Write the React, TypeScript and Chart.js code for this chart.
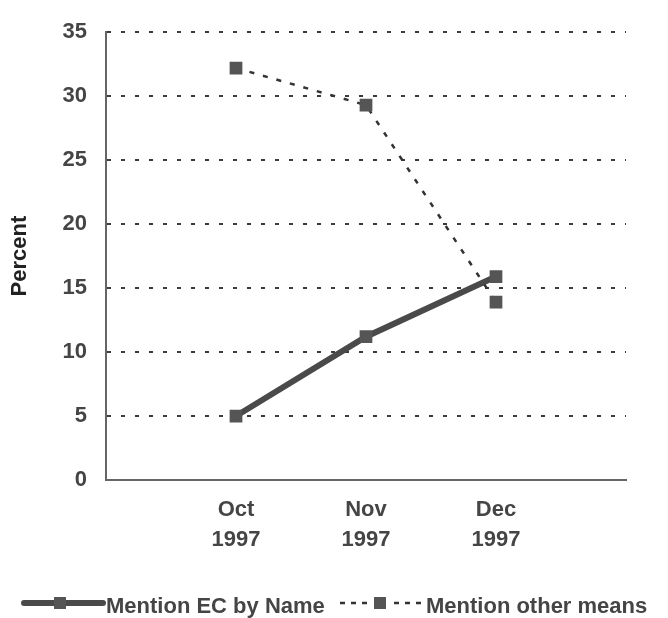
import React, { useEffect, useRef } from "react";
import { Chart, registerables } from "chart.js";

Chart.register(...registerables);

const categories: string[][] = [["Oct", "1997"], ["Nov", "1997"], ["Dec", "1997"]];
const ecByName: number[] = [5.0, 11.2, 15.9];
const otherMeans: number[] = [32.2, 29.3, 13.9];
const seriesNames: string[] = ["Mention EC by Name", "Mention other means"];
const yTicks = { min: 0, max: 35, step: 5 };
const yTitle = "Percent";

const FONT = "'Liberation Sans', Arial, sans-serif";
const TEXT = "#454545";
const LINE = "#4a4a4a";
const MARK = "#555555";

const legendPlugin = {
  id: "customLegend",
  afterDraw(chart: any) {
    const ctx = chart.ctx as CanvasRenderingContext2D;
    const y = 603;
    ctx.save();
    // solid sample
    ctx.strokeStyle = LINE;
    ctx.lineWidth = 6;
    ctx.lineCap = "round";
    ctx.beginPath();
    ctx.moveTo(24, y);
    ctx.lineTo(103, y);
    ctx.stroke();
    ctx.fillStyle = MARK;
    ctx.fillRect(60 - 6, y - 6, 12, 12);
    ctx.font = `bold 22px ${FONT}`;
    ctx.fillStyle = TEXT;
    ctx.textBaseline = "middle";
    ctx.textAlign = "left";
    ctx.fillText(seriesNames[0], 106, 607);
    // dashed sample
    ctx.strokeStyle = "#333";
    ctx.lineWidth = 2.5;
    ctx.lineCap = "butt";
    ctx.setLineDash([5, 6]);
    ctx.beginPath();
    ctx.moveTo(340, y);
    ctx.lineTo(372, y);
    ctx.stroke();
    ctx.beginPath();
    ctx.moveTo(394, y);
    ctx.lineTo(424, y);
    ctx.stroke();
    ctx.setLineDash([]);
    ctx.fillStyle = MARK;
    ctx.fillRect(380 - 6, y - 6, 12, 12);
    ctx.fillStyle = TEXT;
    ctx.fillText(seriesNames[1], 426, 607);
    ctx.restore();
  },
};

export default function App() {
  const ref = useRef<HTMLCanvasElement>(null);
  useEffect(() => {
    if (!ref.current) return;
    const labels: any[] = ["", ...categories, ""];
    const chart = new Chart(ref.current, {
      type: "line",
      data: {
        labels,
        datasets: [
          {
            label: seriesNames[1],
            data: [null, ...otherMeans, null],
            borderColor: "#333",
            borderWidth: 2.5,
            borderDash: [5, 9],
            pointStyle: "rect",
            pointRadius: 9,
            pointBackgroundColor: MARK,
            pointBorderColor: MARK,
            pointBorderWidth: 0,
            fill: false,
            tension: 0,
          },
          {
            label: seriesNames[0],
            data: [null, ...ecByName, null],
            borderColor: LINE,
            borderWidth: 6,
            pointStyle: "rect",
            pointRadius: 9,
            pointBackgroundColor: MARK,
            pointBorderColor: MARK,
            pointBorderWidth: 0,
            fill: false,
            tension: 0,
          },
        ],
      },
      options: {
        responsive: false,
        animation: false,
        layout: { padding: { top: 25, right: 42, left: 0, bottom: 0 } },
        plugins: {
          legend: { display: false },
          tooltip: { enabled: false },
          title: { display: false },
        },
        scales: {
          x: {
            type: "category",
            offset: false,
            grid: { display: false, drawTicks: false },
            border: { display: true, color: "#666", width: 2 },
            ticks: {
              autoSkip: false,
              maxRotation: 0,
              padding: 15,
              color: TEXT,
              font: { family: FONT, size: 22, weight: "bold", lineHeight: 1.36 },
            },
            afterFit: (scale: any) => {
              scale.height = 138;
            },
          },
          y: {
            min: yTicks.min,
            max: yTicks.max,
            ticks: {
              stepSize: yTicks.step,
              padding: 19,
              color: TEXT,
              font: { family: FONT, size: 22, weight: "bold" },
            },
            grid: { color: "#3a3a3a", lineWidth: 2, drawTicks: false },
            border: { display: true, color: "#666", width: 2, dash: [4, 10] },
            title: {
              display: true,
              text: yTitle,
              color: "#222",
              padding: { top: 7, bottom: 0 },
              font: { family: FONT, size: 22, weight: "bold" },
            },
            afterFit: (scale: any) => {
              scale.width = 106;
            },
          },
        },
      },
      plugins: [legendPlugin],
    } as any);
    return () => chart.destroy();
  }, []);
  return (
    <div style={{ position: "absolute", left: 0, top: 0, width: 668, height: 618, background: "#fff" }}>
      <canvas ref={ref} width={668} height={618} style={{ display: "block" }} />
    </div>
  );
}
